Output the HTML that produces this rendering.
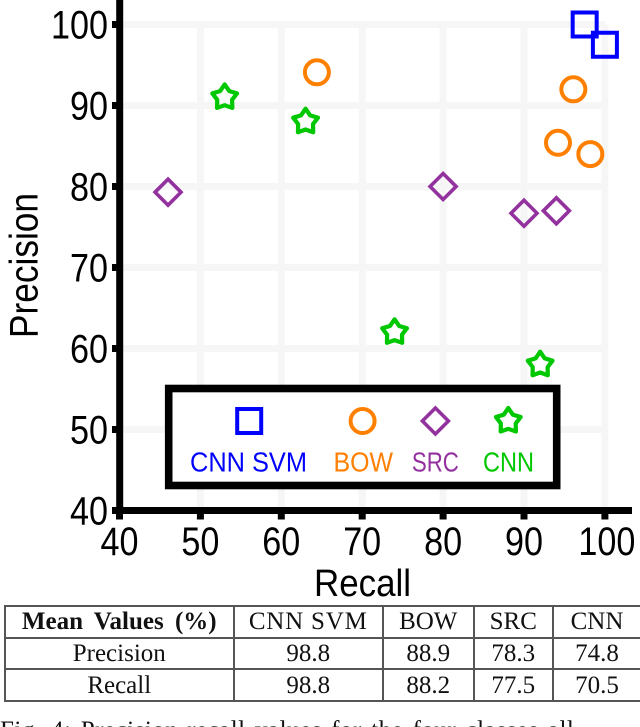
<!DOCTYPE html>
<html>
<head>
<meta charset="utf-8">
<style>
html,body{margin:0;padding:0;background:#fff;width:640px;height:727px;overflow:hidden}
#wrap{position:relative;width:640px;height:727px;overflow:hidden}
svg{position:absolute;left:0;top:0}
text{font-family:"Liberation Sans",sans-serif}
table{position:absolute;left:4px;top:605px;width:636px;height:97px;border-collapse:collapse;table-layout:fixed;font-family:"Liberation Serif",serif;font-size:25px;color:#111}
td{border:2px solid #555;text-align:center;padding:0;line-height:1;white-space:nowrap}
#caption{position:absolute;left:0;top:718px;font-family:"Liberation Serif",serif;font-size:25px;line-height:26px;color:#111;white-space:nowrap;word-spacing:2.6px;letter-spacing:.5px}
</style>
</head>
<body>
<div id="wrap">
<svg id="chart" width="640" height="600" viewBox="0 0 640 600"></svg>
<table>
<colgroup><col style="width:228.5px"><col style="width:149.5px"><col style="width:90.5px"><col style="width:79.5px"><col style="width:88px"></colgroup>
<tr><td style="font-weight:bold;word-spacing:5px">Mean Values (%)</td><td style="letter-spacing:.8px">CNN SVM</td><td>BOW</td><td>SRC</td><td>CNN</td></tr>
<tr><td>Precision</td><td>98.8</td><td>88.9</td><td>78.3</td><td>74.8</td></tr>
<tr><td>Recall</td><td>98.8</td><td>88.2</td><td>77.5</td><td>70.5</td></tr>
</table>
<div id="caption">Fig. 4: Precision-recall values for the four classes all</div>
</div>
<script>
const xTicks = [40, 50, 60, 70, 80, 90, 100];
const yTicks = [40, 50, 60, 70, 80, 90, 100];
const cnnSvmRecall = [97.5, 100];
const cnnSvmPrecision = [100, 97.5];
const bowRecall = [64.4, 96.1, 94.2, 98.2];
const bowPrecision = [94.1, 92, 85.4, 84];
const srcRecall = [46, 80, 90, 94];
const srcPrecision = [79.3, 80, 76.7, 77];
const cnnRecall = [53, 63, 74, 92];
const cnnPrecision = [91, 88, 62, 58];

const NS = 'http://www.w3.org/2000/svg';
const svg = document.getElementById('chart');
function xScale(v) { return 119.5 + (v - 40) * 8.09; }
function yScale(v) { return 24.5 + (100 - v) * 8.1; }
function make(tag, attrs) {
  const el = document.createElementNS(NS, tag);
  for (const k in attrs) el.setAttribute(k, attrs[k]);
  svg.appendChild(el);
  return el;
}
const BLUE = '#0000ff', ORANGE = '#ff8000', PURPLE = '#93329e', GREEN = '#00c800';

function drawSquare(cx, cy) {
  return make('rect', {x: cx - 12, y: cy - 12, width: 24, height: 24, fill: 'none', stroke: BLUE, 'stroke-width': 4});
}
function drawCircle(cx, cy) {
  return make('circle', {cx: cx, cy: cy, r: 12, fill: 'none', stroke: ORANGE, 'stroke-width': 4});
}
function drawDiamond(cx, cy) {
  const r = 13;
  return make('polygon', {points: [cx, cy - r, cx + r, cy, cx, cy + r, cx - r, cy].join(' '), fill: 'none', stroke: PURPLE, 'stroke-width': 3.6});
}
function drawStar(cx, cy) {
  const pts = [];
  for (let i = 0; i < 10; i++) {
    const r = i % 2 ? 7.8 : 13;
    const a = -Math.PI / 2 + i * Math.PI / 5;
    pts.push((cx + r * Math.cos(a)).toFixed(2) + ',' + (cy + r * Math.sin(a)).toFixed(2));
  }
  return make('polygon', {points: pts.join(' '), fill: 'none', stroke: GREEN, 'stroke-width': 4.2, 'stroke-linejoin': 'round'});
}

/* gridlines */
xTicks.forEach(function (t) {
  if (t === 40) return;
  const g = make('line', {x1: xScale(t), x2: xScale(t), y1: yScale(100), y2: yScale(40), stroke: '#f6f6f6', 'stroke-width': 7});
  
  
});
yTicks.forEach(function (t) {
  if (t === 40) return;
  const g = make('line', {x1: xScale(40), x2: xScale(100), y1: yScale(t), y2: yScale(t), stroke: '#f6f6f6', 'stroke-width': 7});
  
  
});

/* axes */
const yAxis = make('line', {x1: 119.7, x2: 119.7, y1: 0, y2: 514, stroke: '#000', 'stroke-width': 7});


const xAxis = make('line', {x1: 112, x2: 632, y1: yScale(40), y2: yScale(40), stroke: '#000', 'stroke-width': 7});



/* ticks and labels */
xTicks.forEach(function (t) {
  const m = make('line', {x1: xScale(t), x2: xScale(t), y1: yScale(40), y2: yScale(40) + 9, stroke: '#000', 'stroke-width': 7});
  
  
  const s = String(t);
  const l = make('text', {x: xScale(t) + (t === 100 ? 2 : 0), y: 555, 'text-anchor': 'middle', 'font-size': 40, fill: '#000', textLength: s.length === 3 ? 57 : 38, lengthAdjust: 'spacingAndGlyphs'});
  l.textContent = s;
  
  
});
yTicks.forEach(function (t) {
  const m = make('line', {x1: 112, x2: 120, y1: yScale(t), y2: yScale(t), stroke: '#000', 'stroke-width': 7});
  
  
  const s = String(t);
  const l = make('text', {x: 108, y: yScale(t) + 14, 'text-anchor': 'end', 'font-size': 40, fill: '#000', textLength: s.length === 3 ? 57 : 38, lengthAdjust: 'spacingAndGlyphs'});
  l.textContent = s;
  
  
});

/* axis titles */
const xTitle = make('text', {x: 362.5, y: 596, 'text-anchor': 'middle', 'font-size': 38, fill: '#000', textLength: 97, lengthAdjust: 'spacingAndGlyphs'});
xTitle.textContent = 'Recall';


const yTitle = make('text', {x: 0, y: 0, transform: 'translate(37.5 265.5) rotate(-90)', 'text-anchor': 'middle', 'font-size': 40, fill: '#000', textLength: 145, lengthAdjust: 'spacingAndGlyphs'});
yTitle.textContent = 'Precision';



/* series */
bowRecall.forEach(function (v, i) {
  const p = drawCircle(xScale(v), yScale(bowPrecision[i]));
  
  
});
srcRecall.forEach(function (v, i) {
  const p = drawDiamond(xScale(v), yScale(srcPrecision[i]));
  
  
});
cnnRecall.forEach(function (v, i) {
  const p = drawStar(xScale(v), yScale(cnnPrecision[i]));
  
  
});
cnnSvmRecall.forEach(function (v, i) {
  const p = drawSquare(xScale(v), yScale(cnnSvmPrecision[i]));
  
  
});

/* legend */
const legendBox = make('rect', {x: 168.7, y: 388.5, width: 388, height: 97, fill: '#fff', stroke: '#000', 'stroke-width': 7.6});


const m1 = drawSquare(249.2, 421);


const m2 = drawCircle(362.6, 421);


const m3 = drawDiamond(435.4, 421);


const m4 = drawStar(508.3, 421);


function legendLabel(txt, cx, w, color) {
  const t = make('text', {x: cx, y: 471.5, 'text-anchor': 'middle', 'font-size': 28, fill: color, textLength: w, lengthAdjust: 'spacingAndGlyphs'});
  t.textContent = txt;
  return t;
}
const l1 = legendLabel('CNN SVM', 248.5, 117, BLUE);


const l2 = legendLabel('BOW', 363.3, 59.5, ORANGE);


const l3 = legendLabel('SRC', 435.4, 47, PURPLE);


const l4 = legendLabel('CNN', 508.5, 51, GREEN);


</script>
</body>
</html>
